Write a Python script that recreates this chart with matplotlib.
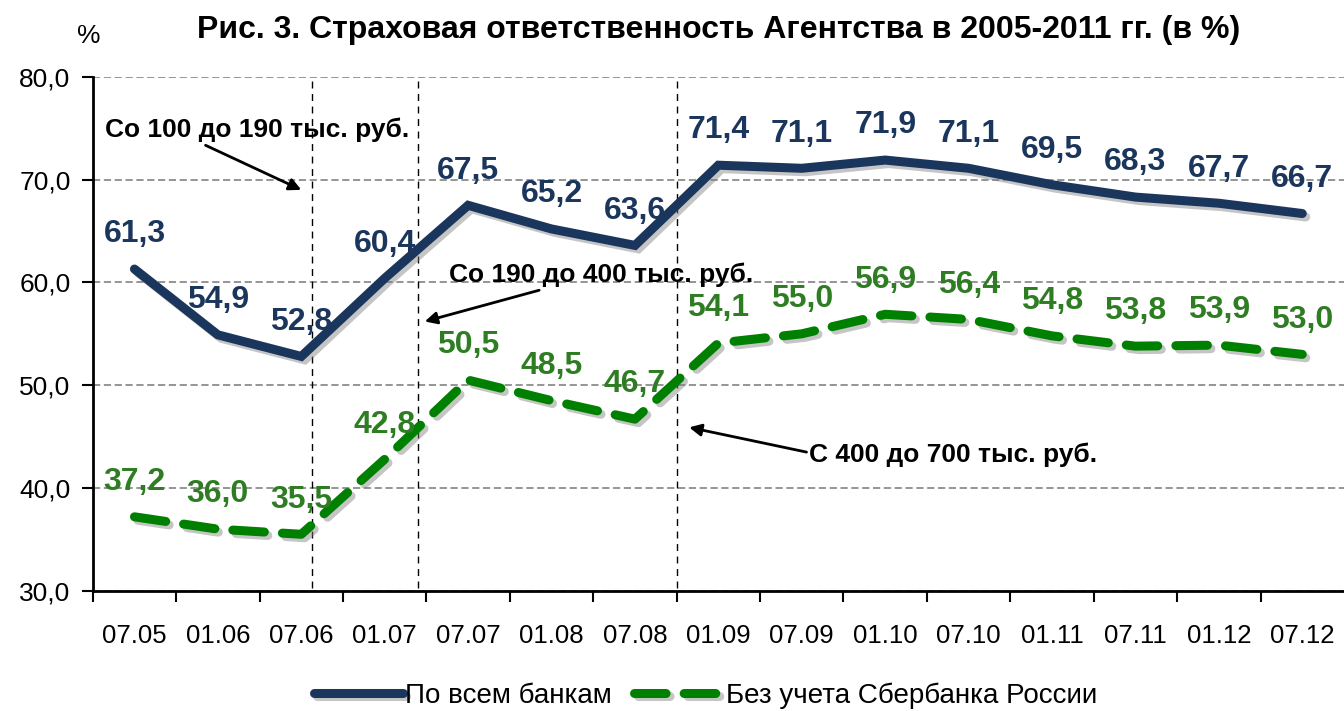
import matplotlib
matplotlib.use('Agg')
import matplotlib.pyplot as plt
import matplotlib.patheffects as pe

plt.rcParams['font.family'] = ['Liberation Sans', 'DejaVu Sans']

# Data
periods = ['07.05', '01.06', '07.06', '01.07', '07.07', '01.08', '07.08', '01.09',
           '07.09', '01.10', '07.10', '01.11', '07.11', '01.12', '07.12']
all_banks = [61.3, 54.9, 52.8, 60.4, 67.5, 65.2, 63.6, 71.4, 71.1, 71.9, 71.1, 69.5, 68.3, 67.7, 66.7]
no_sber = [37.2, 36.0, 35.5, 42.8, 50.5, 48.5, 46.7, 54.1, 55.0, 56.9, 56.4, 54.8, 53.8, 53.9, 53.0]
# positions of limit changes (in category units)
limit_lines = [2.13, 3.40, 6.50]

blue = '#1b365d'
green = '#008000'
green_txt = '#2e7d23'

fig = plt.figure(figsize=(13.44, 7.11), dpi=100)
ax = fig.add_axes([0.069, 0.169, 0.931, 0.723])

x = list(range(len(periods)))
shadow = [pe.SimpleLineShadow(offset=(2.5, -2.5), shadow_color='gray', alpha=0.45), pe.Normal()]
ax.plot(x, all_banks, color=blue, lw=6.5, solid_capstyle='round', solid_joinstyle='miter',
        label='По всем банкам', path_effects=shadow, zorder=4)
ax.plot(x, no_sber, color=green, lw=6.5, ls=(0, (3.5, 2)), dash_capstyle='round',
        label='Без учета Сбербанка России', path_effects=shadow, zorder=4)

def fmt(v):
    return f'{v:.1f}'.replace('.', ',')

for i, v in enumerate(all_banks):
    ax.annotate(fmt(v), (i, v), xytext=(0, 25), textcoords='offset points',
                ha='center', va='center', fontsize=23, fontweight='bold', color=blue, zorder=5)
for i, v in enumerate(no_sber):
    ax.annotate(fmt(v), (i, v), xytext=(0, 25), textcoords='offset points',
                ha='center', va='center', fontsize=23, fontweight='bold', color=green_txt, zorder=5)

for xl in limit_lines:
    ax.plot([xl, xl], [30.3, 79.7], color='black', lw=1, ls=(0, (5, 4)), zorder=3)

# annotations
arrow = dict(arrowstyle='-|>', color='black', lw=2, mutation_scale=18, shrinkA=0, shrinkB=0)
ax.annotate('Со 100 до 190 тыс. руб.', xy=(2.0, 69.0), xytext=(-0.35, 74.8),
            fontsize=19, fontweight='bold', va='center', ha='left',
            arrowprops=dict(arrow, relpos=(0.31, 0)))
ax.annotate('Со 190 до 400 тыс. руб.', xy=(3.48, 56.2), xytext=(3.77, 60.7),
            fontsize=19, fontweight='bold', va='center', ha='left',
            arrowprops=dict(arrow, relpos=(0.33, 0)))
ax.annotate('С 400 до 700 тыс. руб.', xy=(6.65, 45.9), xytext=(8.09, 43.2),
            fontsize=19, fontweight='bold', va='center', ha='left',
            arrowprops=dict(arrow, relpos=(0, 0.6)))

ax.set_xlim(-0.5, 14.5)
ax.set_ylim(30, 80)
yt = [30, 40, 50, 60, 70, 80]
ax.set_yticks(yt)
ax.set_yticklabels([fmt(v) for v in yt], fontsize=19)
ax.set_xticks(x)
ax.set_xticklabels(periods, fontsize=18.5)
ax.set_xticks([i + 0.5 for i in range(-1, 14)], minor=True)
ax.tick_params(axis='x', which='major', length=0, pad=24)
ax.tick_params(axis='x', which='minor', length=8, width=1.5, direction='out')
ax.tick_params(axis='y', length=8, width=1.5, direction='out', pad=8)

ax.grid(axis='y', color='#8c8c8c', ls=(0, (4, 2)), lw=1.3)
ax.set_axisbelow(True)
for s in ['top', 'right']:
    ax.spines[s].set_visible(False)
for s in ['left', 'bottom']:
    ax.spines[s].set_linewidth(2)

fig.text(0.535, 0.958, 'Рис. 3. Страховая ответственность Агентства в 2005-2011 гг. (в %)',
         ha='center', va='center', fontsize=23, fontweight='bold')
fig.text(0.066, 0.95, '%', ha='center', va='center', fontsize=19)

fig.legend(loc='center', bbox_to_anchor=(0.525, 0.022), ncol=2, frameon=False, fontsize=20,
           handlelength=3.2, columnspacing=0.8, handletextpad=0.1)

fig.savefig('out.png', dpi=100)
